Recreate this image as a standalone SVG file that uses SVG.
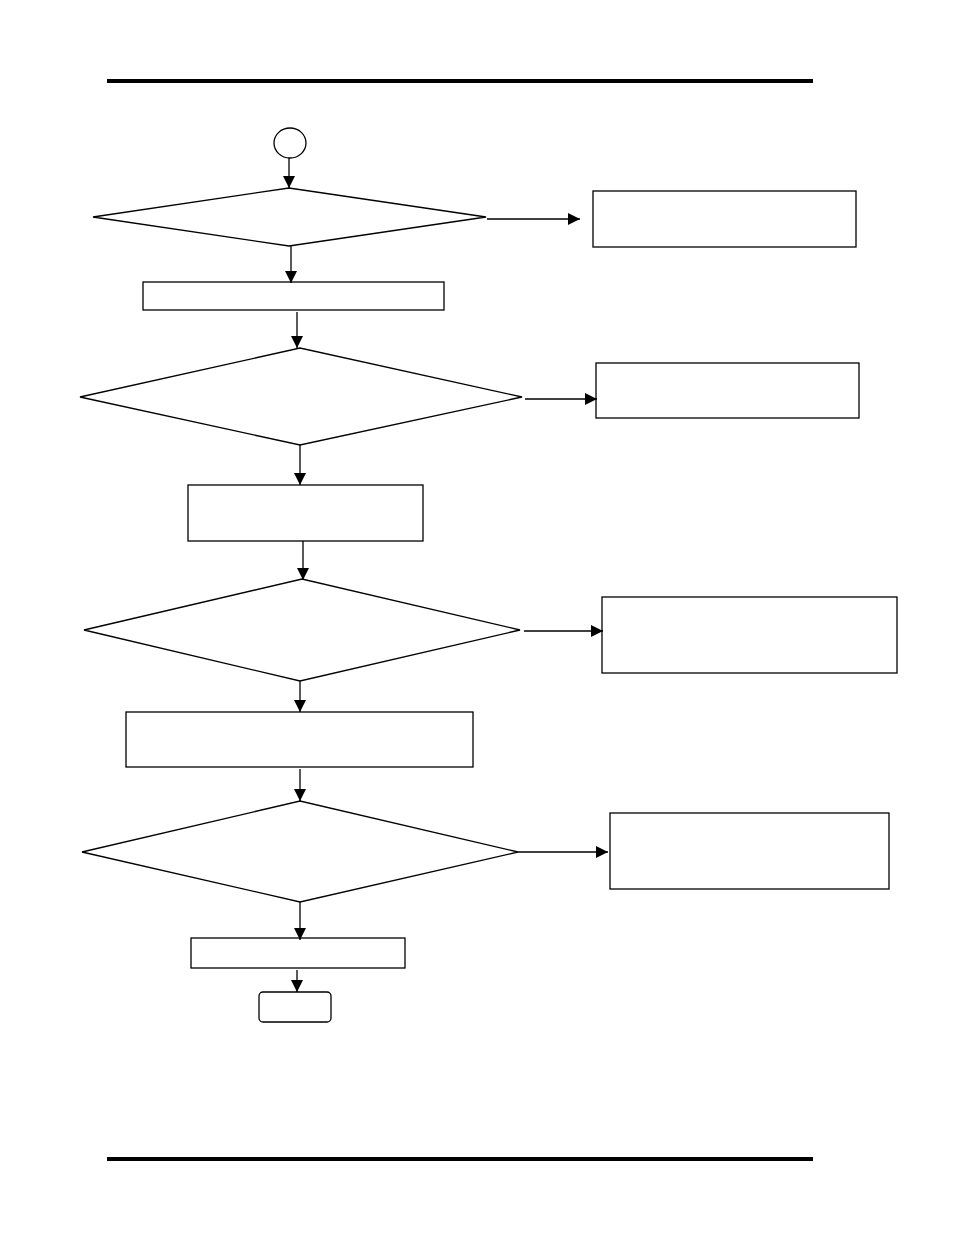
<svg xmlns="http://www.w3.org/2000/svg" width="954" height="1235" viewBox="0 0 954 1235">
<style>
.s{fill:#fff;stroke:#000;stroke-width:1.3}
.c{stroke:#000;stroke-width:1.3;fill:none}
.rule{stroke:#000;stroke-width:4}
</style>
<defs>
<marker id="ah" markerUnits="userSpaceOnUse" markerWidth="13" markerHeight="12" refX="12" refY="6" orient="auto">
<path d="M0,0 L12,6 L0,12 Z" fill="#000"/>
</marker>
</defs>
<rect width="954" height="1235" fill="#fff"/>
<line class="rule" x1="107" y1="81" x2="813" y2="81"/>
<line class="rule" x1="107" y1="1159" x2="813" y2="1159"/>
<g id="start"><ellipse class="s" cx="290" cy="143" rx="16" ry="15"/></g>
<g id="d1"><polygon class="s" points="93,217 289,188 486,217 289,246"/></g>
<g id="b1"><rect class="s" x="593" y="191" width="263" height="56"/></g>
<g id="b2"><rect class="s" x="143" y="282" width="301" height="28"/></g>
<g id="d2"><polygon class="s" points="80,397 300,348 522,397 300,445"/></g>
<g id="b3"><rect class="s" x="596" y="363" width="263" height="55"/></g>
<g id="b4"><rect class="s" x="188" y="485" width="235" height="56"/></g>
<g id="d3"><polygon class="s" points="84,630 302,579 520,630 300,681"/></g>
<g id="b5"><rect class="s" x="602" y="597" width="295" height="76"/></g>
<g id="b6"><rect class="s" x="126" y="712" width="347" height="55"/></g>
<g id="d4"><polygon class="s" points="82,852 300,801 518,852 300,902"/></g>
<g id="b7"><rect class="s" x="610" y="813" width="279" height="76"/></g>
<g id="b8"><rect class="s" x="191" y="938" width="214" height="30"/></g>
<g id="end"><rect class="s" x="259" y="992" width="72" height="30" rx="4"/></g>
<g id="connectors">
<line class="c" x1="289" y1="158" x2="289" y2="188" marker-end="url(#ah)"/>
<line class="c" x1="487" y1="219" x2="580" y2="219" marker-end="url(#ah)"/>
<line class="c" x1="291" y1="246" x2="291" y2="283" marker-end="url(#ah)"/>
<line class="c" x1="297" y1="312" x2="297" y2="348" marker-end="url(#ah)"/>
<line class="c" x1="525" y1="399" x2="597" y2="399" marker-end="url(#ah)"/>
<line class="c" x1="300" y1="445" x2="300" y2="485" marker-end="url(#ah)"/>
<line class="c" x1="303" y1="541" x2="303" y2="580" stroke-width="2" marker-end="url(#ah)"/>
<line class="c" x1="524" y1="631" x2="603" y2="631" marker-end="url(#ah)"/>
<line class="c" x1="300" y1="681" x2="300" y2="712" marker-end="url(#ah)"/>
<line class="c" x1="300" y1="769" x2="300" y2="801" marker-end="url(#ah)"/>
<line class="c" x1="518" y1="852" x2="608" y2="852" marker-end="url(#ah)"/>
<line class="c" x1="300" y1="902" x2="300" y2="940" marker-end="url(#ah)"/>
<line class="c" x1="297" y1="970" x2="297" y2="992" marker-end="url(#ah)"/>
</g>
</svg>
